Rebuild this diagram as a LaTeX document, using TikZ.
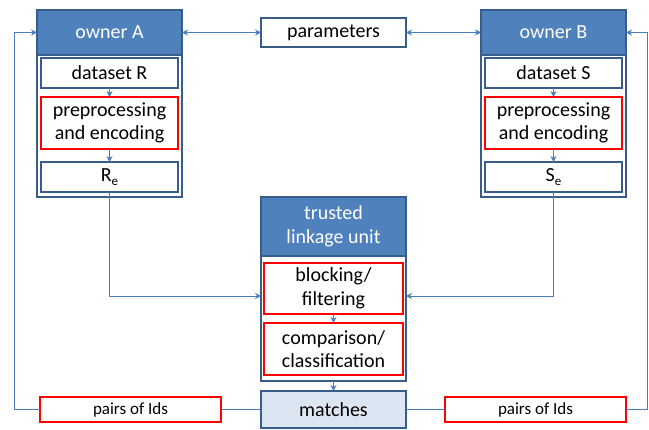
\documentclass[tikz,border=0pt]{standalone}
\usepackage{fontspec}
\setmainfont{Carlito}
\usetikzlibrary{arrows.meta,calc}
\definecolor{hdrblue}{HTML}{4F81BD}
\definecolor{edgeblue}{HTML}{385D8A}
\definecolor{linkblue}{HTML}{4A7EBB}
\definecolor{matchfill}{HTML}{DCE6F2}
\newcommand{\subsc}[1]{\raisebox{-4.5pt}{\fontsize{13}{13}\selectfont #1}}
\begin{document}
\begin{tikzpicture}[x=1pt,y=-1pt,
  every node/.style={inner sep=0pt,outer sep=0pt,font=\fontsize{20}{23.5}\selectfont},
  container/.style={draw=edgeblue,line width=1.2pt,fill=white,rectangle},
  header/.style={draw=edgeblue,line width=1.2pt,fill=hdrblue,text=white,rectangle,align=center},
  inbox/.style={draw=edgeblue,line width=1.2pt,fill=white,rectangle,minimum width=137pt,align=center},
  redbox/.style={draw=red,line width=1.2pt,fill=white,rectangle,align=center},
  matchbox/.style={draw=edgeblue,line width=1.2pt,fill=matchfill,rectangle},
  conn/.style={draw=linkblue,line width=0.9pt},
  arr/.style={conn,-{Stealth[length=6pt,width=6pt,inset=2pt]}},
  darr/.style={conn,{Stealth[length=6pt,width=6pt,inset=2pt]}-{Stealth[length=6pt,width=6pt,inset=2pt]}}
]
\useasboundingbox (0,0) rectangle (649,430);

% owner A
\node[container,minimum width=145pt,minimum height=187pt] (boxA) at (109.5,103.5) {};
\node[header,minimum width=145pt,minimum height=45pt] (ownerA) at (109.5,32.5) {owner A};
\node[inbox,minimum height=30pt] (dataR) at (109.5,73) {dataset R};
\node[redbox,minimum width=137pt,minimum height=52pt] (prepA) at (109.5,123) {preprocessing\\and encoding};
\node[inbox,minimum height=30pt] (Re) at (109.5,177) {R\subsc{e}};

% owner B
\node[container,minimum width=145pt,minimum height=187pt] (boxB) at (553.5,103.5) {};
\node[header,minimum width=145pt,minimum height=45pt] (ownerB) at (553.5,32.5) {owner B};
\node[inbox,minimum height=30pt] (dataS) at (553.5,73) {dataset S};
\node[redbox,minimum width=137pt,minimum height=52pt] (prepB) at (553.5,123) {preprocessing\\and encoding};
\node[inbox,minimum height=30pt] (Se) at (553.5,177) {S\subsc{e}};

% parameters
\node[inbox,minimum width=145pt,minimum height=29pt] (params) at (333.5,32.5) {parameters};

% trusted linkage unit
\node[container,minimum width=145pt,minimum height=184pt] (boxT) at (333.5,289) {};
\node[header,minimum width=145pt,minimum height=59pt] (tlu) at (333.5,226.5) {trusted\\linkage unit};
\node[redbox,minimum width=139pt,minimum height=51pt] (block) at (333.5,288.5) {blocking/\\filtering};
\node[redbox,minimum width=139pt,minimum height=52pt] (comp) at (333.5,349) {comparison/\\classification};

% matches and pairs
\node[matchbox,minimum width=145pt,minimum height=37pt] (matches) at (333.5,409.5) {matches};
\node[redbox,minimum width=181pt,minimum height=25pt,font=\fontsize{17}{20}\selectfont] (pairsL) at (130.5,409.5) {pairs of Ids};
\node[redbox,minimum width=181pt,minimum height=25pt,font=\fontsize{17}{20}\selectfont] (pairsR) at (535.5,409.5) {pairs of Ids};

\coordinate (leftrail) at (14,409.5);
\coordinate (rightrail) at (647,409.5);
\coordinate (tA) at (261,296);
\coordinate (tB) at (406,296);

% internal arrows
\draw[arr] (dataR) -- (prepA);
\draw[arr] (prepA) -- (Re);
\draw[arr] (dataS) -- (prepB);
\draw[arr] (prepB) -- (Se);
\draw[arr] (block) -- (comp);
\draw[arr] (boxT) -- (matches);

% parameters
\draw[darr] (ownerA.east) -- (params.west);
\draw[darr] (params.east) -- (ownerB.west);

% encoded data to TLU
\draw[arr] (Re.south) |- (tA);
\draw[arr] (Se.south) |- (tB);

% results back
\draw[conn] (matches.west) -- (pairsL.east);
\draw[conn] (matches.east) -- (pairsR.west);
\draw[arr] (pairsL.west) -- (leftrail) |- (ownerA.west);
\draw[arr] (pairsR.east) -- (rightrail) |- (ownerB.east);
\end{tikzpicture}
\end{document}
